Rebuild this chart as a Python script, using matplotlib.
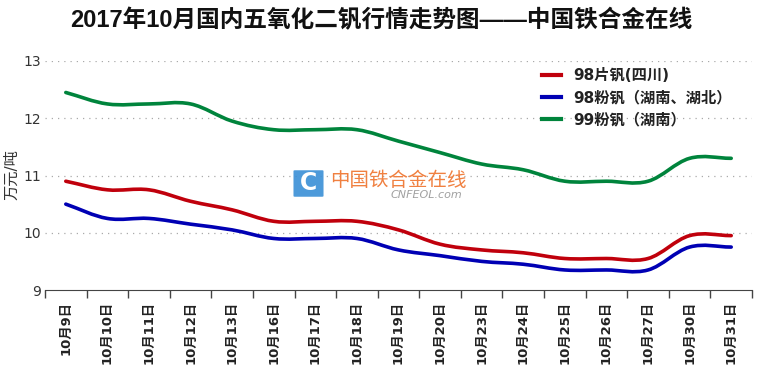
import numpy as np
import matplotlib
matplotlib.use("Agg")
import matplotlib.pyplot as plt
from matplotlib.path import Path
from matplotlib.patches import PathPatch, FancyBboxPatch

plt.rcParams['font.family'] = ['DejaVu Sans', 'Noto Sans CJK SC']

# 数据
dates = ["10月9日", "10月10日", "10月11日", "10月12日", "10月13日", "10月16日",
         "10月17日", "10月18日", "10月19日", "10月20日", "10月23日", "10月24日",
         "10月25日", "10月26日", "10月27日", "10月30日", "10月31日"]
v98_pian = [10.9, 10.75, 10.75, 10.55, 10.4, 10.2, 10.2, 10.2, 10.05, 9.8,
            9.7, 9.65, 9.55, 9.55, 9.55, 9.95, 9.95]
v98_fen = [10.5, 10.25, 10.25, 10.15, 10.05, 9.9, 9.9, 9.9, 9.7, 9.6,
           9.5, 9.45, 9.35, 9.35, 9.35, 9.75, 9.75]
v99_fen = [12.45, 12.25, 12.25, 12.25, 11.95, 11.8, 11.8, 11.8, 11.6, 11.4,
           11.2, 11.1, 10.9, 10.9, 10.9, 11.3, 11.3]
series = [("98片钒(四川)", v98_pian, "#c0000c"),
          ("98粉钒（湖南、湖北）", v98_fen, "#0000b4"),
          ("99粉钒（湖南）", v99_fen, "#00843c")]
yticks = [9, 10, 11, 12, 13]


def smooth_path(x, y, t=0.35):
    # 平滑曲线 (cardinal spline -> 贝塞尔路径)
    x = np.asarray(x, float)
    y = np.asarray(y, float)
    n = len(x)
    m = np.zeros(n)
    m[0] = (y[1] - y[0]) / (x[1] - x[0])
    m[-1] = (y[-1] - y[-2]) / (x[-1] - x[-2])
    for i in range(1, n - 1):
        m[i] = (y[i + 1] - y[i - 1]) / (x[i + 1] - x[i - 1])
    verts = [(x[0], y[0])]
    codes = [Path.MOVETO]
    for i in range(n - 1):
        h = x[i + 1] - x[i]
        verts += [(x[i] + h * t, y[i] + m[i] * h * t),
                  (x[i + 1] - h * t, y[i + 1] - m[i + 1] * h * t),
                  (x[i + 1], y[i + 1])]
        codes += [Path.CURVE4] * 3
    return Path(verts, codes)


fig = plt.figure(figsize=(7.6, 3.71), dpi=100)
ax = fig.add_axes([45 / 760, 81 / 371, 707 / 760, 229 / 371])

x = np.arange(len(dates))
for name, vals, col in series:
    ax.add_patch(PathPatch(smooth_path(x, vals), fill=False, edgecolor=col,
                           lw=2.6, capstyle='round', zorder=3))
    ax.plot([], [], color=col, lw=3, label=name)

ax.set_xlim(-0.5, len(dates) - 0.5)
ax.set_ylim(9, 13)
ax.set_yticks(yticks)
ax.set_yticklabels([str(v) for v in yticks], fontsize=10, color="#333333")
ax.tick_params(axis='y', length=0, pad=3)
for v in yticks[1:]:
    ax.axhline(v, color="#aaaaaa", lw=0.9, ls=(0, (1, 4)), zorder=1)

ax.set_xticks(x)
ax.set_xticklabels(dates, rotation=90, fontsize=9.5, fontweight='bold', color="#222222")
ax.tick_params(axis='x', length=0, pad=8)
ax.set_xticks(np.arange(-0.5, len(dates), 1), minor=True)
ax.tick_params(axis='x', which='minor', length=6, width=1, color="#444444")

for s in ['top', 'right', 'left']:
    ax.spines[s].set_visible(False)
ax.spines['bottom'].set_color("#444444")

fig.text(12 / 760, 1 - 175 / 371, "万元/吨", rotation=90, ha='center', va='center',
         fontsize=11, color="#333333")

leg = ax.legend(loc='upper left', bbox_to_anchor=(0.695, 0.995), frameon=False,
                prop={'weight': 'bold', 'size': 11}, handlelength=1.2,
                labelspacing=0.45, borderaxespad=0)
for t in leg.get_texts():
    t.set_color("#222222")

fig.text(0.501, 0.945, "2017年10月国内五氧化二钒行情走势图——中国铁合金在线",
         ha='center', va='center', fontsize=17, fontweight='bold',
         family=['Liberation Sans', 'Noto Sans CJK SC'], color="#111111")

# 水印
logo = FancyBboxPatch((295 / 760, 1 - 196 / 371), 27 / 760, 25 / 371,
                      boxstyle="round,pad=0.002", transform=fig.transFigure,
                      facecolor="#3a8fd6", edgecolor="none", alpha=0.9, zorder=5)
fig.patches.append(logo)
fig.text(308.5 / 760, 1 - 183 / 371, "C", ha='center', va='center', fontsize=17,
         fontweight='bold', color="white", zorder=6)
fig.text(330 / 760, 1 - 180 / 371, "中国铁合金在线", ha='left', va='center',
         fontsize=14, color="#f08040", family=['Noto Sans CJK SC'], zorder=6)
fig.text(462 / 760, 1 - 195 / 371, "CNFEOL.com", ha='right', va='center',
         fontsize=8, color="#a0a0a0", style='italic', zorder=6)

fig.savefig("out.png", dpi=100)
